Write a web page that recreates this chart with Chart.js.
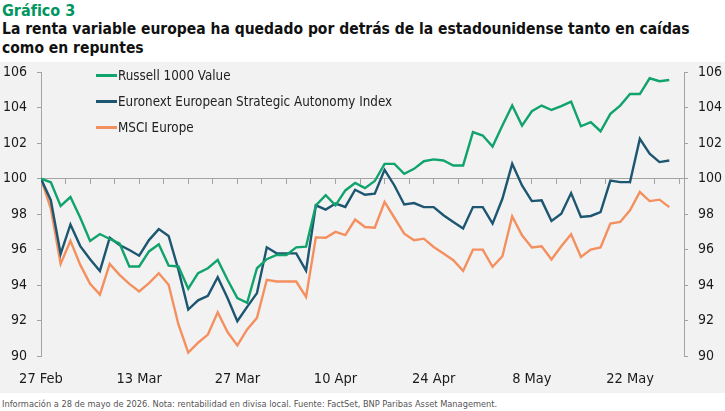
<!DOCTYPE html>
<html lang="es">
<head>
<meta charset="utf-8">
<script src="https://cdn.jsdelivr.net/npm/chart.js@4"></script>
<style>
  html, body { margin:0; padding:0; background:#fff; }
  body { width:725px; height:411px; position:relative; overflow:hidden; font-family:"DejaVu Sans Condensed","DejaVu Sans",sans-serif; }
  .kicker { position:absolute; left:2px; top:1px; font-weight:bold; font-size:16px; color:#00965e; line-height:19px; }
  .title { position:absolute; left:2px; top:20px; font-weight:bold; font-size:15.5px; color:#111; line-height:19px; width:720px; }
  .panel { position:absolute; left:0; top:62px; width:725px; height:331px; background:#f2f2f2; }
  #chart { position:absolute; left:0; top:54px; }
  #legend { position:absolute; left:96px; top:62px; }
  #legend .item { display:flex; align-items:center; height:26px; font-size:13.3px; color:#222; }
  #legend .swatch { width:21px; height:3px; margin-right:1px; }
  .footer { position:absolute; left:2px; top:398px; font-size:9.2px; color:#555; line-height:12px; }
</style>
</head>
<body>
<div class="kicker">Gráfico 3</div>
<div class="title">La renta variable europea ha quedado por detrás de la estadounidense tanto en caídas<br>como en repuntes</div>
<div class="panel"></div>
<canvas id="chart" width="725" height="339"></canvas>
<div id="legend"></div>
<div class="footer">Información a 28 de mayo de 2026. Nota: rentabilidad en divisa local. Fuente: FactSet, BNP Paribas Asset Management.</div>

<script>
// Datos: índices rebasados a 100 el 27 feb (sesiones diarias hasta el 28 may)
const tickLabels = ['27 Feb', '13 Mar', '27 Mar', '10 Apr', '24 Apr', '8 May', '22 May'];
const seriesNames = ['Russell 1000 Value', 'Euronext European Strategic Autonomy Index', 'MSCI Europe'];
const seriesColors = ['#11a36c', '#1c5671', '#f4905f'];

const russell = [
  100, 99.8, 98.47, 98.97, 97.8, 96.49, 96.88, 96.6, 96.35, 95.05,
  95.05, 95.9, 96.3, 95.1, 95.05, 93.8, 94.67, 94.95, 95.42, 94.3,
  93.27, 93.0, 94.95, 95.46, 95.7, 95.7, 96.13, 96.17, 98.5, 99.07,
  98.5, 99.34, 99.76, 99.47, 99.87, 100.84, 100.84, 100.28, 100.56, 100.99,
  101.09, 101.03, 100.75, 100.75, 102.63, 102.44, 101.82, 103.0, 104.13, 103.0,
  103.81, 104.13, 103.88, 104.1, 104.35, 102.96, 103.19, 102.68, 103.66, 104.13,
  104.78, 104.78, 105.67, 105.5, 105.57
];
const euronext = [
  100, 98.79, 95.76, 97.42, 96.2, 95.46, 94.8, 96.67, 96.26, 95.98,
  95.66, 96.54, 97.16, 96.77, 94.86, 92.62, 93.14, 93.4, 94.45, 93.27,
  91.96, 92.77, 93.55, 96.13, 95.79, 95.79, 95.79, 94.82, 98.5, 98.26,
  98.6, 98.41, 99.38, 99.1, 99.16, 100.5, 99.62, 98.55, 98.63, 98.4,
  98.4, 97.94, 97.56, 97.19, 98.4, 98.4, 97.47, 98.87, 100.84, 99.62,
  98.74, 98.78, 97.62, 98.03, 99.19, 97.84, 97.9, 98.12, 99.9, 99.81,
  99.81, 102.25, 101.41, 100.94, 101.03
];
const msciEurope = [
  100, 98.32, 95.2, 96.5, 95.14, 94.07, 93.46, 95.2, 94.58, 94.07,
  93.64, 94.11, 94.67, 94.02, 91.78, 90.19, 90.75, 91.21, 92.47, 91.35,
  90.6, 91.5, 92.15, 94.3, 94.2, 94.2, 94.2, 93.33, 96.69, 96.67,
  97.0, 96.82, 97.7, 97.28, 97.24, 98.69, 97.8, 96.9, 96.53, 96.62,
  96.15, 95.78, 95.4, 94.8, 96.0, 96.0, 95.03, 95.63, 97.88, 96.81,
  96.12, 96.19, 95.44, 96.19, 96.87, 95.59, 96.0, 96.12, 97.47, 97.56,
  98.22, 99.25, 98.74, 98.82, 98.4
];

const AXIS_GREY = '#a3a3a3';
const TEXT = '#1a1a1a';
const tickFont = { family: '"DejaVu Sans Condensed", "DejaVu Sans", sans-serif', size: 14 };

const toPoints = arr => arr.map((v, i) => ({ x: i, y: v }));

const yAxis = (position) => ({
  position,
  min: 90, max: 106,
  afterFit: s => { s.width = 41; },
  border: { display: true, color: AXIS_GREY, width: 1 },
  grid: { drawOnChartArea: false, drawTicks: true, tickLength: 4, color: AXIS_GREY },
  ticks: {
    stepSize: 1, padding: 10, color: TEXT, font: tickFont,
    callback: v => (v % 2 === 0 ? v : '')
  }
});

const chart = new Chart(document.getElementById('chart'), {
  type: 'line',
  data: {
    datasets: [russell, euronext, msciEurope].map((arr, k) => ({
      label: seriesNames[k],
      data: toPoints(arr),
      borderColor: seriesColors[k],
      backgroundColor: seriesColors[k],
      borderWidth: 2.4,
      pointRadius: 0,
      tension: 0,
      yAxisID: 'y'
    }))
  },
  options: {
    responsive: false,
    animation: false,
    layout: { padding: { top: 1, left: 0, right: 0, bottom: 0 } },
    plugins: { legend: { display: false }, tooltip: { enabled: false } },
    scales: {
      x: {
        type: 'linear', position: 'bottom',
        min: 0, max: 65.5,
        afterFit: s => { s.height = 37; },
        border: { display: false },
        grid: { display: false, drawTicks: false },
        ticks: {
          stepSize: 10, includeBounds: false, padding: 15, maxRotation: 0, autoSkip: false,
          color: TEXT, font: { ...tickFont, size: 14.5, weight: '500' },
          callback: v => (v % 10 === 0 ? tickLabels[v / 10] : '')
        }
      },
      // línea de base en 100 con marcas semanales
      x2: {
        type: 'linear', position: { y: 100 }, axis: 'x',
        min: 0, max: 65.5,
        border: { display: true, color: AXIS_GREY, width: 1 },
        grid: { drawOnChartArea: false, drawTicks: true, tickLength: 5, color: AXIS_GREY },
        ticks: { stepSize: 2.5, includeBounds: false, display: false }
      },
      y: yAxis('left'),
      y2: yAxis('right')
    }
  }
});

// leyenda en HTML a partir de los datasets
document.getElementById('legend').innerHTML = chart.data.datasets.map(d => `
  <div class="item"><span class="swatch" style="background:${d.borderColor}"></span>${d.label}</div>
`).join('');
</script>
</body>
</html>
